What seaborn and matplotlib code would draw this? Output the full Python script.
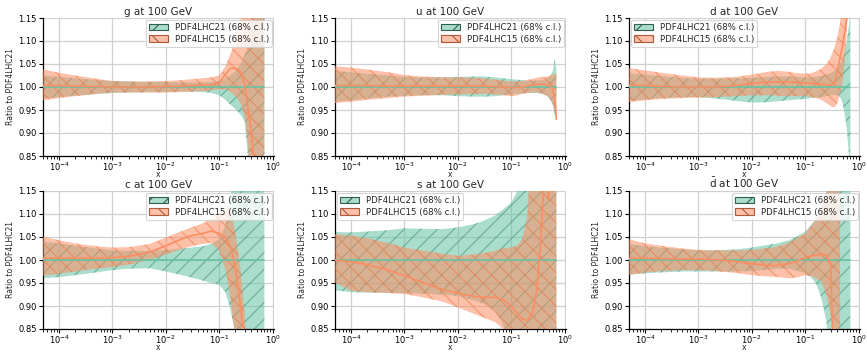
import numpy as np
import pandas as pd
import matplotlib
matplotlib.use("Agg")
import matplotlib.pyplot as plt
import seaborn as sns
from matplotlib.patches import Patch
from matplotlib.colors import to_rgba

nan = float("nan")

# momentum fraction grid
x = [5e-5, 1e-4, 2e-4, 5e-4, 1e-3, 2e-3, 5e-3, 1e-2, 2e-2, 3e-2, 5e-2, 7e-2, 0.1,
     0.13, 0.16, 0.2, 0.25, 0.3, 0.35, 0.4, 0.45, 0.5, 0.55, 0.6, 0.65, 0.7]

titles = ["g at 100 GeV", "u at 100 GeV", "d at 100 GeV",
          "c at 100 GeV", "s at 100 GeV", r"$\bar{\mathrm{d}}$ at 100 GeV"]
legend_labels = ["PDF4LHC21 (68% c.l.)", "PDF4LHC15 (68% c.l.)"]
legend_locs = ["upper right", "upper right", "upper left",
               "upper right", "upper left", "upper right"]

# PDF4LHC21 central ratio (to itself)
r21 = [1.0] * len(x)

# ---- g ----
g_lo21 = [0.975, 0.978, 0.981, 0.985, 0.987, 0.988, 0.989, 0.989, 0.990, 0.990, 0.989, 0.987, 0.982,
          0.972, 0.962, 0.952, 0.940, 0.925, 0.840, 0.70, 0.70, 0.70, 0.70, 0.70, 0.70, 0.70]
g_hi21 = [1.025, 1.022, 1.019, 1.015, 1.013, 1.012, 1.011, 1.011, 1.010, 1.010, 1.010, 1.011, 1.013,
          1.018, 1.025, 1.035, 1.050, 1.070, 1.090, 1.120, 1.30, 1.30, 1.30, 1.30, 1.30, 1.30]
g_c15 = [1.003, 1.003, 1.002, 1.001, 1.000, 1.000, 1.000, 1.001, 1.002, 1.003, 1.004, 1.005, 1.009,
         1.027, 1.040, 1.041, 1.034, 1.005, 0.950, 0.900, 0.840, 0.780, 0.72, 0.70, 0.70, 0.70]
g_hi15 = [1.038, 1.031, 1.025, 1.018, 1.013, 1.012, 1.012, 1.013, 1.015, 1.017, 1.019, 1.021, 1.025,
          1.045, 1.070, 1.100, 1.140, 1.30, 1.30, 1.30, 1.30, 1.30, 1.30, 1.30, 1.30, 1.30]
g_lo15 = [0.971, 0.976, 0.980, 0.985, 0.988, 0.988, 0.988, 0.988, 0.989, 0.990, 0.991, 0.993, 0.995,
          0.995, 0.990, 0.980, 0.965, 0.935, 0.870, 0.70, 0.70, 0.70, 0.70, 0.70, 0.70, 0.70]

# ---- u ----
u_lo21 = [0.968, 0.971, 0.975, 0.979, 0.981, 0.982, 0.982, 0.980, 0.979, 0.979, 0.980, 0.982, 0.984,
          0.985, 0.986, 0.987, 0.987, 0.987, 0.986, 0.984, 0.981, 0.977, 0.970, 0.960, 0.940, 0.935]
u_hi21 = [1.035, 1.032, 1.029, 1.025, 1.022, 1.021, 1.021, 1.022, 1.023, 1.023, 1.021, 1.019, 1.017,
          1.016, 1.015, 1.014, 1.014, 1.014, 1.015, 1.016, 1.018, 1.021, 1.026, 1.035, 1.062, 1.040]
u_c15 = [1.003, 1.003, 1.003, 1.002, 1.002, 1.002, 1.002, 1.002, 1.002, 1.002, 1.001, 1.000, 0.999,
         0.999, 1.000, 1.002, 1.004, 1.005, 1.006, 1.006, 1.005, 1.003, 1.000, 0.995, 0.975, 0.930]
u_hi15 = [1.045, 1.042, 1.038, 1.032, 1.026, 1.023, 1.021, 1.021, 1.020, 1.019, 1.016, 1.014, 1.012,
          1.012, 1.013, 1.015, 1.018, 1.020, 1.022, 1.022, 1.022, 1.024, 1.025, 1.027, 1.028, 1.030]
u_lo15 = [0.965, 0.968, 0.972, 0.976, 0.979, 0.981, 0.983, 0.984, 0.985, 0.985, 0.984, 0.982, 0.980,
          0.982, 0.985, 0.987, 0.988, 0.988, 0.987, 0.985, 0.982, 0.978, 0.972, 0.965, 0.950, 0.925]

# ---- d ----
d_lo21 = [0.970, 0.973, 0.976, 0.978, 0.978, 0.975, 0.970, 0.966, 0.967, 0.969, 0.971, 0.973, 0.974,
          0.976, 0.977, 0.978, 0.980, 0.982, 0.983, 0.982, 0.978, 0.965, 0.940, 0.910, 0.860, 0.800]
d_hi21 = [1.030, 1.027, 1.024, 1.020, 1.018, 1.018, 1.019, 1.020, 1.022, 1.023, 1.023, 1.022, 1.021,
          1.021, 1.022, 1.024, 1.027, 1.030, 1.035, 1.040, 1.050, 1.060, 1.080, 1.100, 1.130, 1.160]
d_c15 = [1.004, 1.003, 1.001, 1.000, 1.000, 1.000, 1.003, 1.008, 1.011, 1.011, 1.011, 1.010, 1.009,
         1.008, 1.007, 1.006, 1.005, 1.004, 1.008, 1.035, 1.065, 1.090, 1.120, 1.150, 1.200, 1.250]
d_hi15 = [1.041, 1.036, 1.031, 1.025, 1.021, 1.020, 1.022, 1.027, 1.033, 1.035, 1.033, 1.030, 1.029,
          1.030, 1.034, 1.040, 1.050, 1.065, 1.085, 1.110, 1.140, 1.200, 1.300, 1.300, 1.300, 1.300]
d_lo15 = [0.967, 0.971, 0.974, 0.976, 0.977, 0.978, 0.980, 0.982, 0.982, 0.981, 0.980, 0.980, 0.980,
          0.978, 0.976, 0.972, 0.965, 0.958, 0.955, 0.965, 0.985, 1.010, 1.060, 1.120, 1.200, 1.300]

# ---- c ----
c_lo21 = [0.960, 0.963, 0.967, 0.973, 0.978, 0.981, 0.982, 0.975, 0.967, 0.962, 0.955, 0.950, 0.946,
          0.930, 0.895, 0.840, 0.70, 0.70, 0.70, 0.70, 0.70, 0.70, 0.70, 0.70, 0.70, 0.70]
c_hi21 = [1.040, 1.036, 1.031, 1.025, 1.021, 1.020, 1.020, 1.022, 1.025, 1.027, 1.030, 1.035, 1.045,
          1.075, 1.120, 1.30, 1.30, 1.30, 1.30, 1.30, 1.30, 1.30, 1.30, 1.30, 1.30, 1.30]
c_c15 = [1.004, 1.004, 1.004, 1.004, 1.005, 1.008, 1.017, 1.031, 1.046, 1.053, 1.058, 1.063, 1.058,
         1.050, 1.030, 0.985, 0.900, 0.820, 0.70, 0.70, 0.70, 0.70, 0.70, 0.70, 0.70, 0.70]
c_hi15 = [1.051, 1.043, 1.036, 1.030, 1.027, 1.028, 1.035, 1.049, 1.063, 1.071, 1.080, 1.090, 1.100,
          1.112, 1.110, 1.060, 0.980, 0.880, 0.750, 0.70, 0.70, 0.70, 0.70, 0.70, 0.70, 0.70]
c_lo15 = [0.966, 0.970, 0.975, 0.981, 0.985, 0.990, 1.000, 1.012, 1.024, 1.030, 1.035, 1.037, 1.020,
          0.980, 0.920, 0.830, 0.70, 0.70, 0.70, 0.70, 0.70, 0.70, 0.70, 0.70, 0.70, 0.70]

# ---- s ----
s_lo21 = [0.934, 0.930, 0.929, 0.929, 0.928, 0.927, 0.925, 0.922, 0.912, 0.905, 0.890, 0.860, 0.800,
          0.70, 0.70, 0.70, 0.70, 0.70, 0.70, 0.70, 0.70, 0.70, 0.70, 0.70, 0.70, 0.70]
s_hi21 = [1.061, 1.060, 1.062, 1.065, 1.069, 1.068, 1.067, 1.071, 1.078, 1.085, 1.097, 1.110, 1.125,
          1.150, 1.30, 1.30, 1.30, 1.30, 1.30, 1.30, 1.30, 1.30, 1.30, 1.30, 1.30, 1.30]
s_c15 = [1.000, 0.996, 0.990, 0.978, 0.966, 0.953, 0.936, 0.928, 0.921, 0.919, 0.919, 0.914, 0.900,
         0.884, 0.872, 0.868, 0.885, 0.935, 1.030, 1.150, 1.200, 1.130, 1.250, 1.30, 1.30, 1.30]
s_hi15 = [1.056, 1.053, 1.047, 1.037, 1.027, 1.021, 1.014, 1.009, 1.012, 1.015, 1.020, 1.026, 1.027,
          1.032, 1.045, 1.096, 1.30, 1.30, 1.30, 1.30, 1.30, 1.30, 1.30, 1.30, 1.30, 1.30]
s_lo15 = [0.951, 0.933, 0.930, 0.928, 0.926, 0.920, 0.910, 0.897, 0.883, 0.875, 0.865, 0.850, 0.70,
          0.70, 0.70, 0.70, 0.70, 0.70, 0.70, 0.70, 0.70, 0.70, 0.70, 0.70, 0.70, 0.70]

# ---- dbar ----
db_lo21 = [0.968, 0.971, 0.973, 0.975, 0.975, 0.975, 0.975, 0.976, 0.979, 0.981, 0.981, 0.977, 0.971,
           0.962, 0.948, 0.917, 0.866, 0.70, 0.70, 0.70, 0.70, 0.70, 0.70, 0.70, 0.70, 0.70]
db_hi21 = [1.035, 1.030, 1.027, 1.023, 1.021, 1.021, 1.023, 1.027, 1.033, 1.036, 1.043, 1.051, 1.062,
           1.077, 1.090, 1.105, 1.150, 1.30, 1.30, 1.30, 1.30, 1.30, 1.30, 1.30, 1.30, 1.30]
db_c15 = [1.004, 1.004, 1.003, 1.002, 1.002, 1.001, 0.997, 0.992, 0.988, 0.988, 0.992, 0.998, 1.005,
          1.009, 1.011, 1.012, 1.011, 0.990, 0.70, 0.70, 0.70, nan, nan, nan, nan, nan]
db_hi15 = [1.045, 1.036, 1.031, 1.025, 1.022, 1.021, 1.021, 1.022, 1.026, 1.029, 1.038, 1.048, 1.058,
           1.075, 1.090, 1.109, 1.150, 1.30, 1.30, 1.30, 1.30, nan, nan, nan, nan, nan]
db_lo15 = [0.967, 0.973, 0.976, 0.978, 0.978, 0.976, 0.972, 0.967, 0.964, 0.963, 0.960, 0.962, 0.967,
           0.965, 0.960, 0.953, 0.924, 0.880, 0.800, 0.70, 0.70, nan, nan, nan, nan, nan]

panels = [
    (g_lo21, g_hi21, g_c15, g_lo15, g_hi15),
    (u_lo21, u_hi21, u_c15, u_lo15, u_hi15),
    (d_lo21, d_hi21, d_c15, d_lo15, d_hi15),
    (c_lo21, c_hi21, c_c15, c_lo15, c_hi15),
    (s_lo21, s_hi21, s_c15, s_lo15, s_hi15),
    (db_lo21, db_hi21, db_c15, db_lo15, db_hi15),
]

C21 = "#66c2a5"
C15 = "#fc8d62"
H21 = "#2f8a6c"
H15 = "#f07040"
ALPHA = 0.55

sns.set_theme(style="whitegrid")
plt.rcParams.update({
    "font.family": ["DejaVu Sans"],
    "mathtext.fontset": "dejavusans",
    "axes.edgecolor": "black",
    "axes.linewidth": 0.9,
    "grid.color": "#d0d0d0",
    "grid.linewidth": 0.9,
    "xtick.bottom": True,
    "ytick.left": True,
    "xtick.major.size": 3,
    "ytick.major.size": 3,
    "xtick.minor.size": 1.8,
    "xtick.major.width": 0.8,
    "ytick.major.width": 0.8,
    "xtick.minor.width": 0.6,
    "xtick.color": "black",
    "ytick.color": "black",
    "xtick.major.pad": 0.5,
    "ytick.major.pad": 1.5,
    "hatch.linewidth": 0.8,
})

fig = plt.figure(figsize=(8.67, 3.52), dpi=100)
W, H = 867.0, 352.0
lefts = [43, 335, 629]
tops = [18, 191]
aw, ah = 231, 138

for i, (lo21, hi21, c15, lo15, hi15) in enumerate(panels):
    r, c = divmod(i, 3)
    ax = fig.add_axes([lefts[c] / W, 1 - (tops[r] + ah) / H, aw / W, ah / H])
    ax.set_xscale("log")
    ax.fill_between(x, lo21, hi21, facecolor=C21, edgecolor=H21, alpha=ALPHA,
                    hatch="//", linewidth=0, zorder=2)
    ax.fill_between(x, lo15, hi15, facecolor=C15, edgecolor=H15, alpha=ALPHA,
                    hatch="\\\\", linewidth=0, zorder=3)
    df = pd.DataFrame({"x": x, "r21": r21, "r15": c15})
    sns.lineplot(data=df, x="x", y="r21", ax=ax, color=C21, lw=1.2, zorder=4)
    sns.lineplot(data=df.dropna(), x="x", y="r15", ax=ax, color=C15, lw=1.2, zorder=5)
    ax.set_xlim(5e-5, 1.06)
    ax.set_ylim(0.85, 1.15)
    ax.set_yticks([0.85, 0.90, 0.95, 1.00, 1.05, 1.10, 1.15])
    ax.yaxis.set_major_formatter(matplotlib.ticker.FormatStrFormatter("%.2f"))
    ax.tick_params(labelsize=6)
    ax.tick_params(axis="x", which="minor", bottom=True)
    ax.grid(True, which="major", color="#d0d0d0", lw=0.9)
    ax.set_title(titles[i], fontsize=7.5, pad=2)
    ax.set_xlabel("x", fontsize=5.5, va="center")
    ax.xaxis.set_label_coords(0.5, -0.135)
    ax.set_ylabel("Ratio to PDF4LHC21", fontsize=5.5, labelpad=2)
    for s in ["top", "right"]:
        ax.spines[s].set_visible(False)
    handles = [
        Patch(facecolor=to_rgba(C21, ALPHA), edgecolor="#2e5e50", hatch="//", lw=0.8),
        Patch(facecolor=to_rgba(C15, ALPHA), edgecolor="#b05a3a", hatch="\\\\", lw=0.8),
    ]
    leg = ax.legend(handles, legend_labels, loc=legend_locs[i], fontsize=6.2,
                    frameon=True, framealpha=0.8, edgecolor="#cccccc",
                    borderaxespad=0.25, borderpad=0.35, labelspacing=0.3,
                    handlelength=2.2, handleheight=0.8, handletextpad=0.8)
    leg.get_frame().set_linewidth(0.8)

fig.savefig("out.png", dpi=100)
